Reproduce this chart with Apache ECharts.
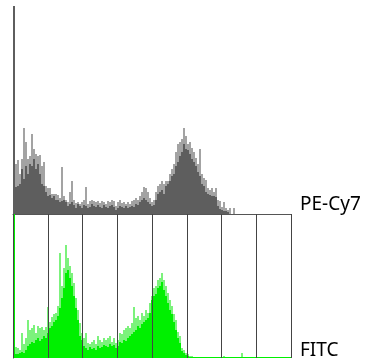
<!DOCTYPE html>
<html><head><meta charset="utf-8">
<script src="https://cdn.jsdelivr.net/npm/echarts@6/dist/echarts.min.js"></script>
<style>html,body{margin:0;padding:0;background:#fff}#c{width:367px;height:360px}</style>
</head><body><div id="c"></div>
<script>
// Channel labels
const channelLabels = ["PE-Cy7", "FITC"];
// Bottom-panel decade divisions (8 columns)
const decadeTicks = [0, 1, 2, 3, 4, 5, 6, 7, 8];

// PE-Cy7 histogram (139 bins): filled level and spike peaks
const peFill = [208,27,28,30,45,35,48,40,50,48,55,45,50,40,30,28,22,18,19,16,18,14,14,12,13,14,12,8,10,12,9,6,10,8,6,9,8,6,7,10,8,7,9,7,6,9,7,6,8,9,7,4,6,8,7,6,8,6,7,8,7,10,9,12,14,16,14,12,10,8,9,14,20,22,24,20,28,30,33,38,40,48,52,58,62,70,65,64,60,55,52,48,42,38,30,28,22,20,19,18,18,17,8,5,4,3,3,2,0,0,0,0,0,0,0,0,0,0,0,0,0,0,0,0,0,0,0,0,0,0,0,0,0,0,0,0,0,0,0];
const pePeak = [208,50,54,40,55,86,72,55,58,80,65,60,58,59,48,52,28,26,26,20,20,20,19,16,47,18,14,12,22,33,14,11,12,10,12,14,27,10,13,14,13,12,13,11,13,12,10,13,12,14,13,8,12,14,11,12,10,12,10,13,14,16,14,18,22,27,26,22,16,12,14,22,28,30,33,30,33,33,40,45,50,62,70,72,75,86,78,70,72,66,62,56,50,65,40,36,34,26,24,26,22,26,14,13,7,12,6,4,6,0,6,0,0,0,0,0,0,0,0,0,0,0,0,0,0,0,0,0,0,0,0,0,0,0,0,0,0,0,0];

// FITC histogram (139 bins): filled level and spike peaks
const fitcFill = [144,4,4,5,6,5,8,12,14,16,15,18,20,17,19,22,20,25,30,32,36,38,42,50,60,70,85,88,80,72,62,50,38,22,18,12,10,8,11,9,10,8,12,10,11,13,12,11,14,12,13,10,12,16,15,18,17,20,22,24,26,28,32,30,34,36,38,40,45,58,62,64,70,72,76,68,62,55,48,44,36,28,20,15,7,5,3,2,1,1,1,1,1,1,1,1,1,1,1,1,1,1,1,1,1,1,1,1,1,1,1,1,1,1,1,1,1,1,1,1,1,1,1,1,1,1,1,1,1,1,1,1,1,1,1,1,1,1,1];
const fitcPeak = [144,11,10,8,25,14,20,38,28,30,33,25,32,30,31,28,31,51,36,41,44,45,52,105,72,90,113,100,92,85,75,60,48,35,25,20,25,15,14,16,18,14,22,18,16,20,18,20,22,16,20,15,18,25,24,28,30,32,30,35,51,40,42,38,45,42,48,45,55,62,70,72,78,80,85,78,72,65,58,52,44,38,26,22,10,8,5,4,2,2,1,1,1,1,1,1,1,1,1,1,1,1,1,1,1,2,1,1,1,1,1,1,1,1,5,1,1,1,1,1,1,1,1,1,1,1,1,1,1,1,1,1,1,1,1,1,1,1,1];

const bins = peFill.map((_, i) => i);

const chart = echarts.init(document.getElementById('c'), null, {renderer: 'canvas'});
const hidden = {show: false};
const labelStyle = {fontFamily: 'Noto Sans', fontSize: 19, fontWeight: 'normal', color: '#000'};
chart.setOption({
  animation: false,
  backgroundColor: '#fff',
  title: [
    {text: channelLabels[0], left: 300, top: 195, padding: 0, textStyle: labelStyle},
    {text: channelLabels[1], left: 300, top: 341, padding: 0, textStyle: labelStyle}
  ],
  grid: [
    {left: 13, width: 278, top: 6, height: 208},
    {left: 13, width: 278, top: 214, height: 144},
    {left: 13, width: 278, top: 34, height: 324}
  ],
  xAxis: [
    {gridIndex: 0, type: 'category', data: bins, boundaryGap: true,
     axisLine: {show: true, onZero: false, lineStyle: {color: '#555', width: 1}},
     axisTick: hidden, axisLabel: hidden, splitLine: hidden},
    {gridIndex: 1, type: 'category', data: bins, boundaryGap: true,
     axisLine: hidden, axisTick: hidden, axisLabel: hidden, splitLine: hidden},
    {gridIndex: 1, type: 'value', min: decadeTicks[0], max: decadeTicks[decadeTicks.length - 1], interval: 1, z: 10,
     axisLine: hidden, axisTick: hidden, axisLabel: hidden,
     splitLine: {show: true, lineStyle: {color: '#444', width: 1}}},
    {gridIndex: 2, type: 'value', min: 0, max: 1, show: false}
  ],
  yAxis: [
    {gridIndex: 0, type: 'value', min: 0, max: 208, show: false},
    {gridIndex: 1, type: 'value', min: 0, max: 144, show: false},
    {gridIndex: 2, type: 'value', min: 0, max: 1, position: 'right',
     axisLine: {show: true, lineStyle: {color: '#444', width: 1}},
     axisTick: hidden, axisLabel: hidden, splitLine: hidden}
  ],
  series: [
    {type: 'bar', xAxisIndex: 0, yAxisIndex: 0, data: pePeak, barWidth: '100%', barGap: '-100%',
     itemStyle: {color: '#a3a3a3'}, silent: true},
    {type: 'bar', xAxisIndex: 0, yAxisIndex: 0, data: peFill, barWidth: '100%', barGap: '-100%',
     itemStyle: {color: '#5e5e5e'}, silent: true},
    {type: 'bar', xAxisIndex: 1, yAxisIndex: 1, data: fitcPeak, barWidth: '100%', barGap: '-100%',
     itemStyle: {color: '#7cf27c'}, silent: true, z: 1},
    {type: 'bar', xAxisIndex: 1, yAxisIndex: 1, data: fitcFill, barWidth: '100%', barGap: '-100%',
     itemStyle: {color: '#00f000'}, silent: true, z: 1}
  ]
});
</script></body></html>
